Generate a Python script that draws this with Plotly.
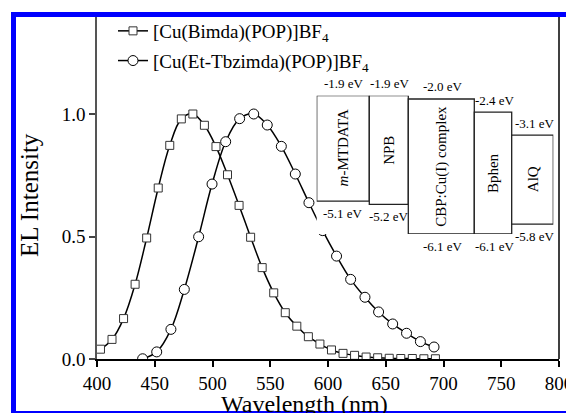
import plotly.graph_objects as go

# ---------------- data ----------------
series_names = ["[Cu(Bimda)(POP)]BF<sub>4</sub>", "[Cu(Et-Tbzimda)(POP)]BF<sub>4</sub>"]

wl_bimda = [403, 413, 423, 433, 443, 453, 463, 473, 483, 493, 503, 513, 523, 533, 543,
            553, 563, 573, 583, 593, 603, 613, 623, 633, 643, 653, 663, 673, 683, 693]
el_bimda = [0.040, 0.080, 0.165, 0.305, 0.494, 0.698, 0.872, 0.980, 1.000, 0.954, 0.867,
            0.752, 0.627, 0.497, 0.373, 0.270, 0.189, 0.134, 0.091, 0.061, 0.037, 0.023,
            0.015, 0.008, 0.005, 0.003, 0.002, 0.002, 0.001, 0.001]

wl_tbz = [439.5, 451.7, 464.0, 475.6, 488.0, 499.6, 511.4, 523.5, 535.7, 547.4, 559.6,
          571.7, 583.5, 595.4, 607.4, 619.6, 632.0, 643.8, 656.0, 668.0, 680.0, 691.8]
el_tbz = [0.001, 0.029, 0.121, 0.284, 0.499, 0.714, 0.887, 0.981, 1.000, 0.955, 0.868,
          0.755, 0.638, 0.524, 0.420, 0.325, 0.252, 0.192, 0.143, 0.105, 0.071, 0.049]

x_ticks = [400, 450, 500, 550, 600, 650, 700, 750, 800]
y_ticks = [0.0, 0.5, 1.0]

layer_names = ["<i>m</i>-MTDATA", "NPB", "CBP:Cu(I) complex", "Bphen", "AlQ"]
lumo_ev = [-1.9, -1.9, -2.0, -2.4, -3.1]
homo_ev = [-5.1, -5.2, -6.1, -6.1, -5.8]

# ---------------- style / layout constants ----------------
FONT = "Liberation Serif"
W, H = 566, 413
L, R, T, B = 97, 7, 12, 54
PW, PH = W - L - R, H - T - B
BOX_WIDTHS = [52.6, 39.0, 66.0, 37.4, 41.6]   # drawing widths (px) of the inset boxes


def px_x(px):
    return (px - L) / PW


def px_y(py):
    return (H - B - py) / PH


fig = go.Figure()

fig.add_trace(go.Scatter(
    x=wl_bimda, y=el_bimda, name=series_names[0], mode="lines+markers", legendgroup="a",
    line=dict(color="black", width=1.5, shape="spline", smoothing=1.0),
    marker=dict(symbol="square", size=8, color="white", line=dict(color="#333333", width=1)),
))
fig.add_trace(go.Scatter(
    x=wl_tbz, y=el_tbz, name=series_names[1], mode="lines+markers", legendgroup="b",
    line=dict(color="black", width=1.5, shape="spline", smoothing=1.0),
    marker=dict(symbol="circle", size=10, color="white", line=dict(color="black", width=1)),
))

# ---------------- inset energy-level diagram ----------------
edges = [0.0]
for w in BOX_WIDTHS:
    edges.append(edges[-1] + w)

shapes = []
annotations = []
for i, name in enumerate(layer_names):
    x0, x1 = edges[i], edges[i + 1]
    shapes.append(dict(type="rect", xref="x2", yref="y2", x0=x0, x1=x1,
                       y0=homo_ev[i], y1=lumo_ev[i],
                       line=dict(color="#222222", width=1.3), fillcolor="white", layer="above"))
    xc = (x0 + x1) / 2
    annotations.append(dict(xref="x2", yref="y2", x=xc, y=(homo_ev[i] + lumo_ev[i]) / 2,
                            xanchor="center", yanchor="middle",
                            text=name, textangle=-90, showarrow=False,
                            font=dict(family=FONT, size=15, color="black")))
    annotations.append(dict(xref="x2", yref="y2", x=xc, y=lumo_ev[i], yshift=12,
                            xanchor="center", yanchor="middle",
                            xshift=2 if i >= 2 else 1,
                            text=f"{lumo_ev[i]:.1f} eV", showarrow=False,
                            font=dict(family=FONT, size=13, color="black")))
    annotations.append(dict(xref="x2", yref="y2", x=xc, y=homo_ev[i], yshift=-12,
                            xanchor="center", yanchor="middle",
                            xshift=2 if i >= 2 else 0,
                            text=f"{homo_ev[i]:.1f} eV", showarrow=False,
                            font=dict(family=FONT, size=13, color="black")))

# axis titles
annotations.append(dict(xref="paper", yref="paper", x=px_x(304), y=px_y(389),
                        xanchor="center", yanchor="top",
                        text="Wavelength (nm)", showarrow=False,
                        font=dict(family=FONT, size=24, color="black")))
annotations.append(dict(xref="paper", yref="paper", x=px_x(30), y=px_y(195),
                        xanchor="center", yanchor="middle",
                        text="EL Intensity", textangle=-90, showarrow=False,
                        font=dict(family=FONT, size=25, color="black")))

# right frame line
shapes.append(dict(type="line", xref="paper", yref="paper", x0=1, x1=1, y0=0, y1=1,
                   line=dict(color="black", width=1.5), layer="above"))
# blue border (top, left, bottom)
blue = "#0000ff"
shapes.append(dict(type="rect", xref="paper", yref="paper", x0=px_x(11), x1=px_x(567),
                   y0=px_y(17), y1=px_y(12), line=dict(width=0), fillcolor=blue, layer="above"))
shapes.append(dict(type="rect", xref="paper", yref="paper", x0=px_x(11), x1=px_x(16),
                   y0=px_y(414), y1=px_y(12), line=dict(width=0), fillcolor=blue, layer="above"))
shapes.append(dict(type="rect", xref="paper", yref="paper", x0=px_x(11), x1=px_x(567),
                   y0=px_y(414), y1=px_y(411), line=dict(width=0), fillcolor=blue, layer="above"))

fig.update_layout(
    width=W, height=H,
    margin=dict(l=L, r=R, t=T, b=B, pad=0),
    paper_bgcolor="white", plot_bgcolor="white",
    font=dict(family=FONT, size=19, color="black"),
    showlegend=True,
    legend=dict(x=px_x(113), y=px_y(12), xanchor="left", yanchor="top",
                bgcolor="rgba(0,0,0,0)", borderwidth=0,
                font=dict(family=FONT, size=19, color="black"),
                traceorder="grouped", tracegroupgap=2, itemsizing="trace"),
    xaxis=dict(range=[400, 800], tickvals=x_ticks, ticks="outside", ticklen=6, tickwidth=1.5,
               tickcolor="black", showline=True, linecolor="black", linewidth=1.5,
               showgrid=False, zeroline=False, automargin=False, ticklabeloverflow="allow",
               tickfont=dict(family=FONT, size=19, color="black")),
    yaxis=dict(range=[0, (H - B - T) / 245.0], tickvals=y_ticks, tickformat=".1f",
               ticks="outside", ticklen=6, tickwidth=1.5, tickcolor="#444444",
               showline=True, linecolor="#555555", linewidth=1.5,
               showgrid=False, zeroline=False, automargin=False,
               tickfont=dict(family=FONT, size=19, color="black")),
    xaxis2=dict(domain=[px_x(316.7), px_x(316.7 + edges[-1])], range=[0, edges[-1]],
                anchor="y2", visible=False, showgrid=False, zeroline=False),
    yaxis2=dict(domain=[px_y(234.0), px_y(95.7)], range=[-6.1, -1.9],
                anchor="x2", visible=False, showgrid=False, zeroline=False),
    shapes=shapes,
    annotations=annotations,
)

fig.write_html("out.html", config={"displayModeBar": False},
               post_script="document.body.style.margin='0';document.body.style.overflow='hidden';")
